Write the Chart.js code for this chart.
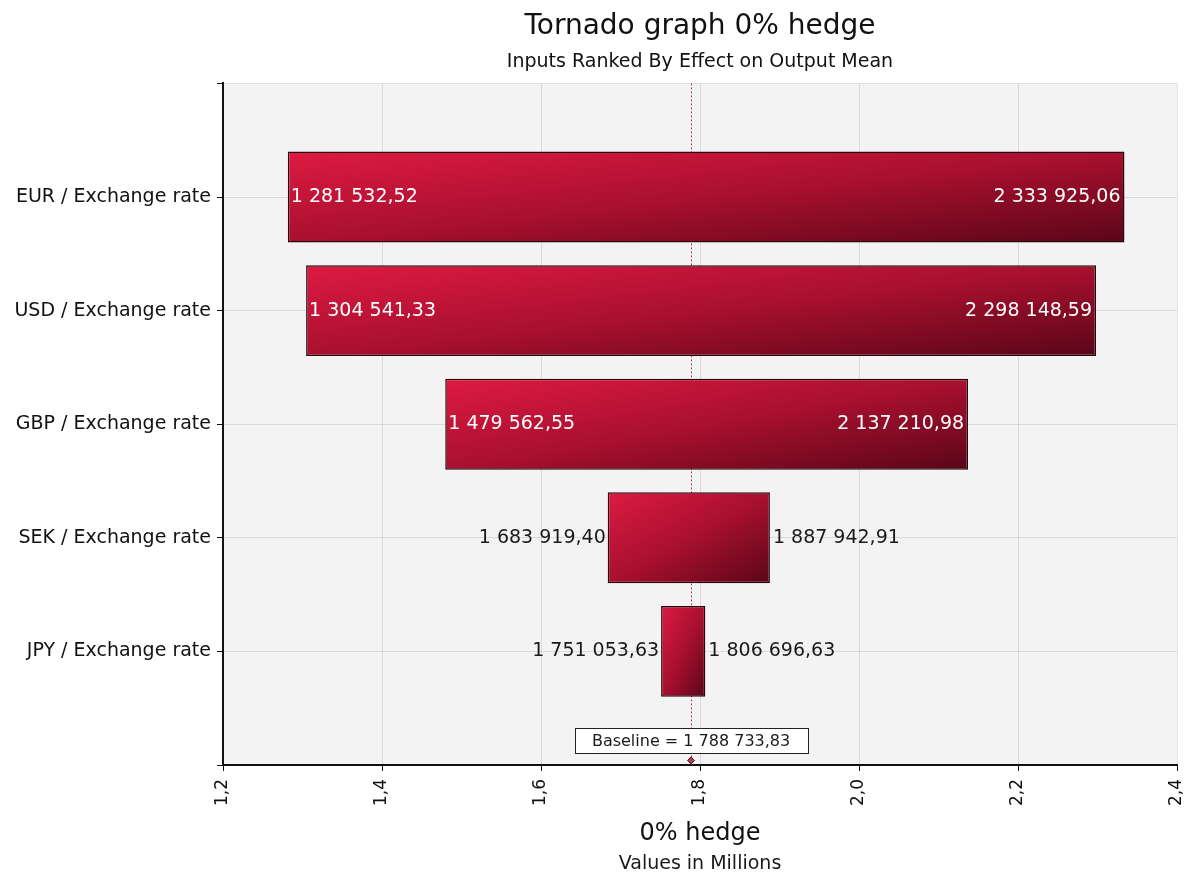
<!DOCTYPE html>
<html>
<head>
<meta charset="utf-8">
<script src="https://cdn.jsdelivr.net/npm/chart.js@4/dist/chart.umd.min.js"></script>
<style>
  html, body { margin: 0; padding: 0; background: #fff; }
  #wrap { width: 1195px; height: 878px; }
</style>
</head>
<body>
<div id="wrap"><canvas id="tornado" width="1195" height="878"></canvas></div>
<script>
const categories = [
  'EUR / Exchange rate',
  'USD / Exchange rate',
  'GBP / Exchange rate',
  'SEK / Exchange rate',
  'JPY / Exchange rate'
];
const lowValues = [1281532.52, 1304541.33, 1479562.55, 1683919.40, 1751053.63];
const highValues = [2333925.06, 2298148.59, 2137210.98, 1887942.91, 1806696.63];
const baseline = 1788733.83;
const xTicks = [1200000, 1400000, 1600000, 1800000, 2000000, 2200000, 2400000];

const FONT = '"DejaVu Sans", Verdana, sans-serif';

// '1 281 532,52' style
function fmt(v) {
  const parts = v.toFixed(2).split('.');
  return parts[0].replace(/\B(?=(\d{3})+(?!\d))/g, ' ') + ',' + parts[1];
}

// empty slots above and below so the bars sit on rows 1..5
const rowLabels = ['', ...categories, ''];
const bars = [null, ...lowValues.map((lo, i) => [lo, highValues[i]]), null];

function barHeight(chart) {
  const ys = chart.scales.y;
  return Math.abs(ys.getPixelForValue(1) - ys.getPixelForValue(0)) * 0.8;
}

// diagonal shading, light top-left to dark bottom-right
function barFill(ctx) {
  const chart = ctx.chart;
  const v = ctx.raw;
  if (ctx.type !== 'data' || !v || !chart.chartArea) return '#b81232';
  const xs = chart.scales.x, ys = chart.scales.y;
  const x0 = xs.getPixelForValue(v[0]);
  const x1 = xs.getPixelForValue(v[1]);
  const h = barHeight(chart);
  const top = ys.getPixelForValue(ctx.dataIndex) - h / 2;
  const w = x1 - x0;
  const t = 2 * w * h / (w * w + h * h);
  const g = chart.ctx.createLinearGradient(x0, top, x0 + t * h, top + t * w);
  g.addColorStop(0, '#de1a42');
  g.addColorStop(0.5, '#a9102f');
  g.addColorStop(1, '#5a0618');
  return g;
}

const tornadoPlugin = {
  id: 'tornadoExtras',
  beforeDraw(chart) {
    const a = chart.chartArea;
    const c = chart.ctx;
    c.save();
    c.fillStyle = '#f3f3f3';
    c.fillRect(a.left, a.top, a.right - a.left, a.bottom - a.top);
    c.restore();
  },
  beforeDatasetsDraw(chart) {
    const a = chart.chartArea;
    const c = chart.ctx;
    const bx = Math.round(chart.scales.x.getPixelForValue(baseline)) + 0.5;
    c.save();
    c.strokeStyle = '#c0304c';
    c.lineWidth = 1;
    c.setLineDash([2, 2]);
    c.beginPath();
    c.moveTo(bx, a.top);
    c.lineTo(bx, a.bottom);
    c.stroke();
    c.restore();
  },
  afterDraw(chart) {
    const a = chart.chartArea;
    const c = chart.ctx;
    const xs = chart.scales.x, ys = chart.scales.y;
    c.save();
    c.font = '19px ' + FONT;
    c.textBaseline = 'middle';
    lowValues.forEach((lo, i) => {
      const hi = highValues[i];
      const x0 = xs.getPixelForValue(lo);
      const x1 = xs.getPixelForValue(hi);
      const y = ys.getPixelForValue(i + 1);
      const loText = fmt(lo), hiText = fmt(hi);
      const need = c.measureText(loText).width + c.measureText(hiText).width + 20;
      if (x1 - x0 > need) {
        c.fillStyle = '#ffffff';
        c.textAlign = 'left';
        c.fillText(loText, x0 + 3, y);
        c.textAlign = 'right';
        c.fillText(hiText, x1 - 4, y);
      } else {
        c.fillStyle = '#1a1a1a';
        c.textAlign = 'right';
        c.fillText(loText, x0 - 2, y);
        c.textAlign = 'left';
        c.fillText(hiText, x1 + 3, y);
      }
    });

    // baseline marker and caption
    const bx = xs.getPixelForValue(baseline);
    c.fillStyle = '#b04058';
    c.strokeStyle = '#5a1020';
    c.lineWidth = 1;
    c.beginPath();
    c.moveTo(bx, a.bottom - 8);
    c.lineTo(bx + 3.5, a.bottom - 4.5);
    c.lineTo(bx, a.bottom - 1);
    c.lineTo(bx - 3.5, a.bottom - 4.5);
    c.closePath();
    c.fill();
    c.stroke();

    const cap = 'Baseline = ' + fmt(baseline);
    c.font = '16px ' + FONT;
    const bw = 233, bh = 25;
    const boxLeft = Math.round(bx - bw / 2) + 0.5;
    const boxTop = Math.round(a.bottom - 37) + 0.5;
    c.fillStyle = '#ffffff';
    c.fillRect(boxLeft, boxTop, bw, bh);
    c.strokeStyle = '#222';
    c.strokeRect(boxLeft, boxTop, bw, bh);
    c.fillStyle = '#1a1a1a';
    c.textAlign = 'center';
    c.fillText(cap, bx, boxTop + bh / 2 + 1);

    c.font = '19px ' + FONT;
    c.fillText('Values in Millions', (a.left + a.right) / 2, 864);
    c.restore();
  }
};

new Chart(document.getElementById('tornado'), {
  type: 'bar',
  data: {
    labels: rowLabels,
    datasets: [{
      data: bars,
      backgroundColor: barFill,
      borderColor: '#2a050b',
      borderWidth: 1.5,
      borderSkipped: false,
      barPercentage: 0.8,
      categoryPercentage: 1
    }]
  },
  options: {
    indexAxis: 'y',
    responsive: false,
    animation: false,
    layout: { padding: { top: 0, right: 18, bottom: 0, left: 0 } },
    plugins: {
      legend: { display: false },
      tooltip: { enabled: false },
      title: {
        display: true,
        fullSize: false,
        text: 'Tornado graph 0% hedge',
        color: '#111',
        font: { family: FONT, size: 28, weight: 'normal', lineHeight: 1.2 },
        padding: { top: 10, bottom: 7 }
      },
      subtitle: {
        display: true,
        fullSize: false,
        text: 'Inputs Ranked By Effect on Output Mean',
        color: '#111',
        font: { family: FONT, size: 19, weight: 'normal', lineHeight: 1.2 },
        padding: { top: 0, bottom: 10 }
      }
    },
    scales: {
      x: {
        type: 'linear',
        min: 1200000,
        max: 2400000,
        z: 1,
        afterFit(scale) {
          scale.height = 113;
          scale.paddingLeft = 0;
          scale.paddingRight = 0;
        },
        afterBuildTicks(scale) { scale.ticks = xTicks.map(v => ({ value: v })); },
        ticks: {
          minRotation: 90,
          maxRotation: 90,
          padding: 8,
          color: '#111',
          font: { family: FONT, size: 17 },
          callback: v => (v / 1e6).toFixed(1).replace('.', ',')
        },
        grid: { color: 'rgba(0,0,0,0.1)', tickColor: '#111', tickLength: 6 },
        border: { display: true, color: '#111', width: 2 },
        title: {
          display: true,
          text: '0% hedge',
          color: '#111',
          font: { family: FONT, size: 24, lineHeight: 1.2 },
          padding: { top: 0, bottom: 30 }
        }
      },
      y: {
        type: 'category',
        offset: false,
        z: 1,
        afterFit(scale) { scale.width = 223; },
        ticks: {
          padding: 6,
          color: '#111',
          font: { family: FONT, size: 19 },
          autoSkip: false
        },
        grid: { color: 'rgba(0,0,0,0.1)', tickColor: '#111', tickLength: 6, offset: false },
        border: { display: true, color: '#111', width: 2 }
      }
    }
  },
  plugins: [tornadoPlugin]
});
</script>
</body>
</html>
